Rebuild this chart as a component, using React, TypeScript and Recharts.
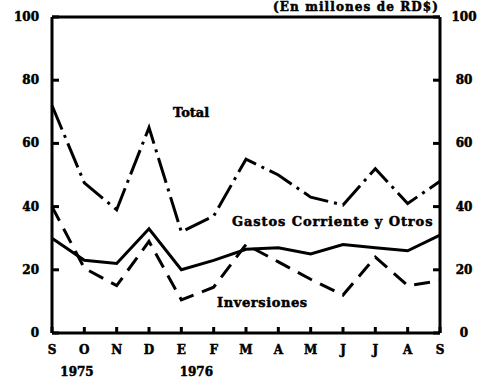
import { LineChart, Line, XAxis, YAxis, ReferenceLine } from "recharts";

const meses = ["S", "O", "N", "D", "E", "F", "M", "A", "M", "J", "J", "A", "S"];
const total = [72, 47.5, 39, 65, 32, 37, 55, 50, 43, 40.5, 52, 41, 48];
const gastos = [30, 23, 22, 33, 20, 23, 26.5, 27, 25, 28, 27, 26, 31];
const inversiones = [40, 20.5, 15, 29, 10.5, 14.5, 28, 22.5, 17, 12, 24, 15, 16.5];
const ticksY = [0, 20, 40, 60, 80, 100];
const anios = [
  { idx: 0, texto: "1975", dx: 25 },
  { idx: 4, texto: "1976", dx: 15 },
];

const data = meses.map((m, i) => ({
  i,
  mes: m,
  total: total[i],
  gastos: gastos[i],
  inversiones: inversiones[i],
}));

const FONT = "'DejaVu Serif', serif";
const negrita = { fontFamily: FONT, fontWeight: 700, fill: "#000", stroke: "#000", strokeWidth: 0.5 };

// marcas hacia dentro del marco + número a la izquierda
function LeftTick(props: any) {
  const { x, y, payload } = props;
  return (
    <g>
      <line x1={x + 13} x2={x + 20} y1={y} y2={y} stroke="#000" strokeWidth={3} />
      <text x={x} y={y + 4} textAnchor="end" fontSize={12} {...negrita}>
        {payload.value}
      </text>
    </g>
  );
}

function RightTick(props: any) {
  const { x, y, payload } = props;
  return (
    <g>
      <line x1={x - 24} x2={x - 31} y1={y} y2={y} stroke="#000" strokeWidth={3} />
      <text x={x} y={y + 4} textAnchor="middle" fontSize={12} {...negrita}>
        {payload.value}
      </text>
    </g>
  );
}

function MesTick(props: any) {
  const { x, y, payload } = props;
  const anio = anios.find((a) => a.idx === payload.value);
  return (
    <g>
      <line x1={x} x2={x} y1={y} y2={y - 6} stroke="#000" strokeWidth={3} />
      <text x={x} y={y + 21} textAnchor="middle" fontSize={12} {...negrita}>
        {meses[payload.value]}
      </text>
      {anio && (
        <text x={x + anio.dx} y={y + 43} textAnchor="middle" fontSize={12} {...negrita}>
          {anio.texto}
        </text>
      )}
    </g>
  );
}

export default function App() {
  return (
    <div style={{ position: "absolute", left: 0, top: 0, width: 485, height: 379, background: "#fff" }}>
      <LineChart width={485} height={379} data={data} margin={{ top: 17, right: 0, left: 0, bottom: 0 }}>
        <XAxis
          dataKey="i"
          type="category"
          height={46}
          tickSize={0}
          tickMargin={0}
          tick={<MesTick />}
          interval={0}
          axisLine={{ stroke: "#000", strokeWidth: 3 }}
        />
        <YAxis
          yAxisId="l"
          domain={[0, 100]}
          ticks={ticksY}
          width={52}
          tickSize={0}
          tickMargin={13}
          tick={<LeftTick />}
          axisLine={{ stroke: "#000", strokeWidth: 3 }}
        />
        <YAxis
          yAxisId="r"
          orientation="right"
          domain={[0, 100]}
          ticks={ticksY}
          width={45}
          tickSize={0}
          tickMargin={24}
          tick={<RightTick />}
          axisLine={{ stroke: "#000", strokeWidth: 3 }}
        />
        <ReferenceLine yAxisId="l" y={100} stroke="#000" strokeWidth={3} />
        <Line yAxisId="l" type="linear" dataKey="total" stroke="#000" strokeWidth={3} strokeDasharray="26 6 3 6" dot={false} isAnimationActive={false} />
        <Line yAxisId="l" type="linear" dataKey="gastos" stroke="#000" strokeWidth={3} dot={false} isAnimationActive={false} />
        <Line yAxisId="r" type="linear" dataKey="inversiones" stroke="#000" strokeWidth={3} strokeDasharray="16 9" dot={false} isAnimationActive={false} />
      </LineChart>
      {/* rótulos de las series y unidad */}
      <svg width={485} height={379} style={{ position: "absolute", left: 0, top: 0, pointerEvents: "none" }}>
        <text x={273} y={11} fontSize={12} letterSpacing={1.1} {...negrita}>(En millones de RD$)</text>
        <text x={173} y={117} fontSize={13} {...negrita}>Total</text>
        <text x={232} y={226} fontSize={13} letterSpacing={0.9} {...negrita}>Gastos Corriente y Otros</text>
        <text x={217} y={307} fontSize={13} letterSpacing={0.6} {...negrita}>Inversiones</text>
      </svg>
    </div>
  );
}
